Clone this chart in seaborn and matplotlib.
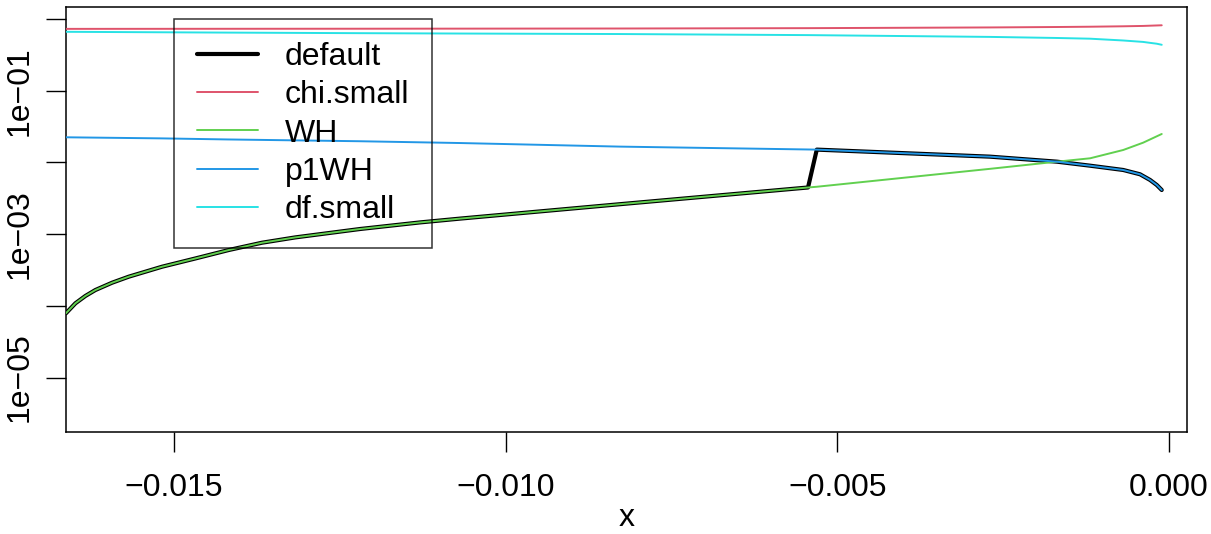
import numpy as np
import pandas as pd
import matplotlib
matplotlib.use("Agg")
import matplotlib.pyplot as plt
import seaborn as sns

# ---- data (y values are log10) ----
x_WH = [-0.01663, -0.016486, -0.016336, -0.016185, -0.015933, -0.015682, -0.015180,
        -0.014678, -0.014174, -0.013672, -0.013170, -0.012195, -0.011290, -0.010687,
        -0.008276, -0.005442, -0.005311, -0.002700, -0.001690, -0.001190, -0.000690,
        -0.000390, -0.000110]
log_WH = [-4.105, -3.965, -3.863, -3.780, -3.678, -3.594, -3.455,
          -3.340, -3.222, -3.120, -3.046, -2.929, -2.837, -2.784,
          -2.583, -2.350, -2.340, -2.090, -1.990, -1.943, -1.827,
          -1.725, -1.604]

x_p1WH = [-0.01663, -0.01520, -0.01420, -0.01220, -0.01069, -0.00828, -0.00544,
          -0.00531, -0.00270, -0.00169, -0.00119, -0.00069, -0.000437, -0.000286,
          -0.000185, -0.000110]
log_p1WH = [-1.650, -1.665, -1.680, -1.705, -1.730, -1.780, -1.820,
            -1.822, -1.920, -1.990, -2.046, -2.106, -2.166, -2.245,
            -2.315, -2.385]

x_chi = [-0.01663, -0.01220, -0.00828, -0.00544, -0.00270, -0.00169, -0.00119,
         -0.00069, -0.00039, -0.00011]
log_chi_small = [-0.138, -0.136, -0.133, -0.128, -0.118, -0.112, -0.108,
                 -0.102, -0.097, -0.088]

x_df = [-0.01663, -0.01420, -0.01220, -0.01069, -0.00828, -0.00544, -0.00270,
        -0.00169, -0.00119, -0.00069, -0.00039, -0.000286, -0.000185, -0.00011]
log_df_small = [-0.179, -0.190, -0.198, -0.203, -0.210, -0.225, -0.250,
                -0.265, -0.275, -0.300, -0.320, -0.333, -0.345, -0.360]

switch_x = -0.0054  # "default" follows WH below this x, p1WH above

series_names = ["default", "chi.small", "WH", "p1WH", "df.small"]
series_colors = ["black", "#DF536B", "#61D04F", "#2297E6", "#28E2E5"]
x_ticks = [-0.015, -0.010, -0.005, 0.000]
x_ticklabels = ["\u22120.015", "\u22120.010", "\u22120.005", "0.000"]
y_ticks_exp = [0, -1, -2, -3, -4, -5]
y_ticklabels = ["", "1e\u221201", "", "1e\u221203", "", "1e\u221205"]

# ---- build frames ----
wh_x = np.array(x_WH); wh_y = 10 ** np.array(log_WH)
p1_x = np.array(x_p1WH); p1_y = 10 ** np.array(log_p1WH)
def_x = np.concatenate([wh_x[wh_x < switch_x], p1_x[p1_x > switch_x]])
def_y = np.concatenate([wh_y[wh_x < switch_x], p1_y[p1_x > switch_x]])
frames = {
    "default": (def_x, def_y),
    "chi.small": (np.array(x_chi), 10 ** np.array(log_chi_small)),
    "WH": (wh_x, wh_y),
    "p1WH": (p1_x, p1_y),
    "df.small": (np.array(x_df), 10 ** np.array(log_df_small)),
}

sns.set_style("white")
plt.rcParams["font.family"] = ["Liberation Sans", "DejaVu Sans"]
plt.rcParams["text.color"] = "black"
plt.rcParams["axes.labelcolor"] = "black"

fig = plt.figure(figsize=(12.11, 5.34), dpi=100)
ax = fig.add_axes([66 / 1211, 1 - 432 / 534, (1187 - 66) / 1211, (432 - 7) / 534])

for name, col in zip(series_names, series_colors):
    fx, fy = frames[name]
    df = pd.DataFrame({"x": fx, "y": fy})
    lw = 3.0 if name == "default" else 1.4
    sns.lineplot(data=df, x="x", y="y", ax=ax, color=col, linewidth=lw,
                 sort=False, estimator=None, label=name,
                 zorder=2 if name == "default" else 3)

ax.set_yscale("log")
ax.set_xlim(-0.016628, 0.000271)
ax.set_ylim(10 ** -5.76, 10 ** 0.167)

ax.set_xticks(x_ticks)
ax.set_xticklabels(x_ticklabels)
ax.set_yticks([10.0 ** e for e in y_ticks_exp])
ax.set_yticklabels(y_ticklabels, rotation=90, va="center")
ax.yaxis.set_minor_locator(matplotlib.ticker.NullLocator())
ax.tick_params(axis="both", which="major", direction="out", length=14.4, width=1.0,
               labelsize=23, color="black", labelcolor="black")
ax.tick_params(axis="x", pad=15)
ax.tick_params(axis="y", pad=8)
ax.tick_params(left=True, bottom=True)
ax.set_xlabel("x", fontsize=23, labelpad=0, color="black")
ax.set_ylabel("")

for s in ax.spines.values():
    s.set_visible(True)
    s.set_color("black")
    s.set_linewidth(1.1)

leg = ax.legend(loc="upper left", bbox_to_anchor=(-0.015, 1.0),
                bbox_transform=ax.transData, borderaxespad=0, fontsize=23,
                frameon=True, fancybox=False, edgecolor="black",
                facecolor="none", framealpha=None,
                handlelength=1.9, handletextpad=0.85, labelspacing=0.26,
                borderpad=0.72, labelcolor="black")
leg.get_frame().set_linewidth(1.1)
leg.get_frame().set_facecolor("none")

fig.savefig("out.png", dpi=100, facecolor="white")
